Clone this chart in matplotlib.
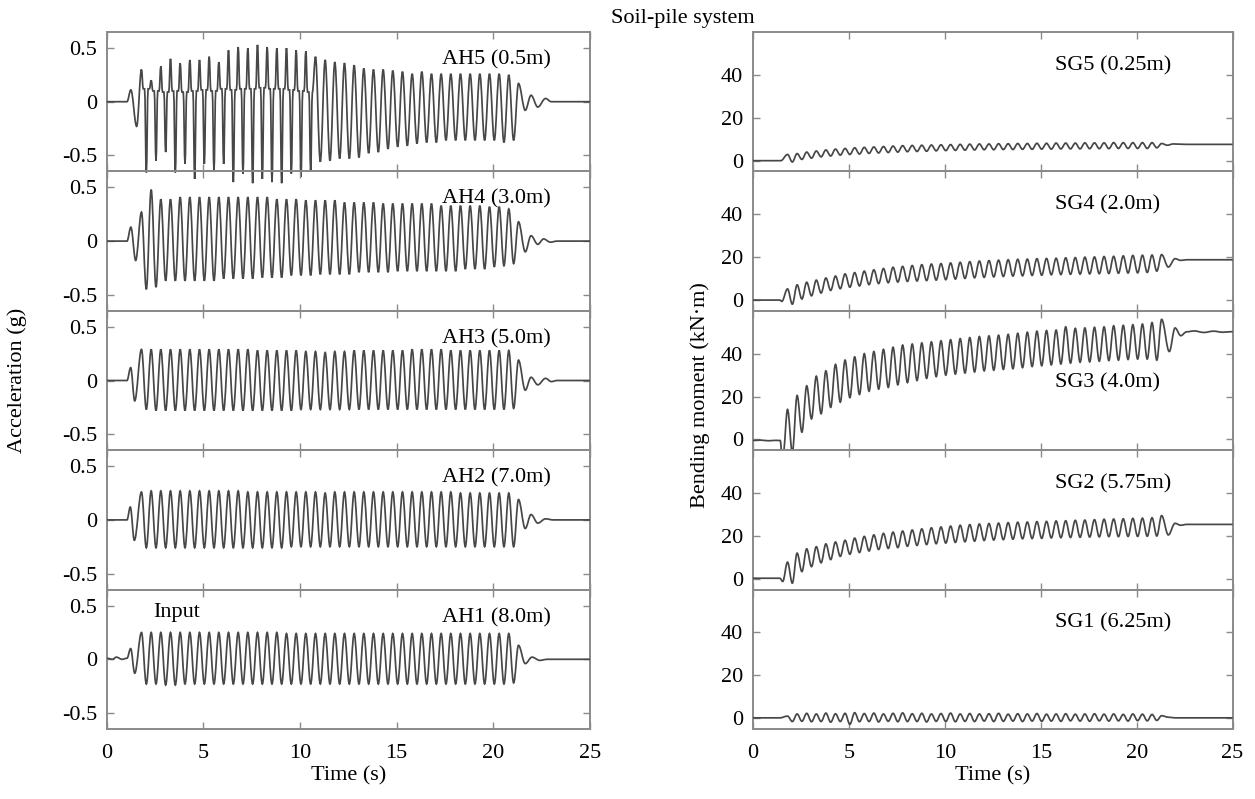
import matplotlib
matplotlib.use('Agg')
import matplotlib.pyplot as plt
from matplotlib.path import Path
from matplotlib.patches import PathPatch

plt.rcParams['font.family'] = ['Liberation Serif', 'DejaVu Serif']
plt.rcParams['font.size'] = 16

# =============================================================
# DATA (cycle peaks / troughs of each record)
# =============================================================

# times of the cycle peaks and troughs (s), ~2 Hz sine sweep
peak_t = [1.8, 2.3, 2.8, 3.3, 3.8, 4.3, 4.8, 5.3, 5.8, 6.3,
          6.8, 7.3, 7.8, 8.3, 8.8, 9.3, 9.8, 10.3, 10.8, 11.3,
          11.8, 12.3, 12.8, 13.3, 13.8, 14.3, 14.8, 15.3, 15.8, 16.3,
          16.8, 17.3, 17.8, 18.3, 18.8, 19.3, 19.8, 20.3, 20.8, 21.3]
trough_t = [2.05, 2.55, 3.05, 3.55, 4.05, 4.55, 5.05, 5.55, 6.05, 6.55,
            7.05, 7.55, 8.05, 8.55, 9.05, 9.55, 10.05, 10.55, 11.05, 11.55,
            12.05, 12.55, 13.05, 13.55, 14.05, 14.55, 15.05, 15.55, 16.05, 16.55,
            17.05, 17.55, 18.05, 18.55, 19.05, 19.55, 20.05, 20.55, 21.05]

# --- accelerations (g) ---
ah5_pre = [(0, 0), (1.05, 0), (1.25, 0.11), (1.55, -0.23)]
ah5_peaks = [0.30, 0.20, 0.33, 0.40, 0.36, 0.39, 0.39, 0.42, 0.37, 0.48,
             0.51, 0.50, 0.53, 0.51, 0.50, 0.50, 0.48, 0.47, 0.42, 0.39,
             0.37, 0.36, 0.34, 0.31, 0.30, 0.30, 0.29, 0.28, 0.26, 0.28,
             0.26, 0.26, 0.26, 0.26, 0.26, 0.26, 0.26, 0.26, 0.25, 0.17]
ah5_troughs = [-0.66, -0.55, -0.47, -0.66, -0.58, -0.72, -0.58, -0.64, -0.58, -0.75,
               -0.67, -0.76, -0.72, -0.75, -0.76, -0.67, -0.70, -0.64, -0.56, -0.55,
               -0.53, -0.53, -0.52, -0.48, -0.47, -0.44, -0.42, -0.41, -0.39, -0.38,
               -0.38, -0.36, -0.36, -0.36, -0.36, -0.36, -0.36, -0.38, -0.36]
# plateau level between the dilation spikes (first cycles only)
ah5_shoulder = [0.12, 0.10, 0.09, 0.10, 0.09, 0.10, 0.11, 0.10, 0.12, 0.11,
                0.12, 0.12, 0.13, 0.12, 0.12, 0.11, 0.10, 0.09]
ah5_post = [(21.65, -0.08), (21.95, 0.06), (22.3, -0.05), (22.7, 0.03), (23.0, 0.0), (25, 0)]

ah4_pre = [(0, 0), (1.05, 0), (1.25, 0.13), (1.5, -0.18)]
ah4_peaks = [0.27, 0.48, 0.39, 0.39, 0.41, 0.41, 0.41, 0.41, 0.41, 0.41,
             0.41, 0.41, 0.41, 0.41, 0.39, 0.39, 0.39, 0.38, 0.38, 0.38,
             0.38, 0.36, 0.36, 0.36, 0.36, 0.35, 0.35, 0.35, 0.35, 0.35,
             0.35, 0.33, 0.33, 0.33, 0.33, 0.33, 0.32, 0.32, 0.30, 0.18]
ah4_troughs = [-0.45, -0.43, -0.37, -0.37, -0.37, -0.37, -0.37, -0.37, -0.35, -0.35,
               -0.35, -0.35, -0.34, -0.34, -0.34, -0.32, -0.32, -0.32, -0.31, -0.31,
               -0.31, -0.31, -0.29, -0.29, -0.29, -0.29, -0.28, -0.28, -0.28, -0.28,
               -0.28, -0.28, -0.28, -0.26, -0.26, -0.26, -0.24, -0.23, -0.21]
ah4_post = [(21.65, -0.10), (21.95, 0.05), (22.3, -0.03), (22.6, 0.02), (22.95, -0.01), (23.3, 0), (25, 0)]

ah3_pre = [(0, 0), (1.05, 0), (1.24, 0.12), (1.45, -0.19)]
ah3_peaks = [0.29, 0.29, 0.29, 0.29, 0.29, 0.29, 0.29, 0.29, 0.29, 0.29,
             0.29, 0.29, 0.28, 0.28, 0.28, 0.28, 0.28, 0.27, 0.27, 0.26,
             0.27, 0.27, 0.28, 0.28, 0.28, 0.28, 0.28, 0.28, 0.29, 0.29,
             0.29, 0.29, 0.28, 0.28, 0.28, 0.28, 0.28, 0.28, 0.28, 0.19]
ah3_troughs = [-0.27, -0.28, -0.28, -0.28, -0.28, -0.28, -0.28, -0.28, -0.28, -0.28,
               -0.28, -0.28, -0.28, -0.28, -0.28, -0.28, -0.27, -0.27, -0.27, -0.27,
               -0.27, -0.27, -0.27, -0.27, -0.27, -0.27, -0.27, -0.27, -0.27, -0.27,
               -0.27, -0.27, -0.27, -0.27, -0.27, -0.27, -0.27, -0.27, -0.26]
ah3_post = [(21.65, -0.09), (21.95, 0.03), (22.3, -0.04), (22.7, 0.02), (23.0, -0.01), (23.3, 0), (25, 0)]

ah2_pre = [(0, 0), (1.05, 0), (1.22, 0.12), (1.43, -0.19)]
ah2_peaks = [0.26, 0.27, 0.27, 0.27, 0.27, 0.27, 0.27, 0.27, 0.27, 0.27,
             0.27, 0.26, 0.26, 0.26, 0.26, 0.26, 0.26, 0.26, 0.26, 0.25,
             0.26, 0.26, 0.26, 0.26, 0.26, 0.26, 0.26, 0.26, 0.26, 0.26,
             0.26, 0.26, 0.26, 0.25, 0.25, 0.25, 0.25, 0.25, 0.25, 0.19]
ah2_troughs = [-0.26, -0.26, -0.26, -0.26, -0.26, -0.26, -0.26, -0.26, -0.26, -0.26,
               -0.26, -0.26, -0.26, -0.26, -0.26, -0.25, -0.25, -0.25, -0.25, -0.25,
               -0.25, -0.25, -0.25, -0.25, -0.25, -0.25, -0.25, -0.25, -0.25, -0.25,
               -0.25, -0.25, -0.25, -0.25, -0.25, -0.25, -0.25, -0.25, -0.25]
ah2_post = [(21.65, -0.08), (21.95, 0.05), (22.3, -0.03), (22.7, 0.01), (23.1, 0), (25, 0)]

ah1_pre = [(0, 0.01), (0.3, 0.0), (0.5, 0.02), (0.8, 0.0), (1.05, 0.01), (1.24, 0.10), (1.45, -0.13)]
ah1_peaks = [0.25, 0.25, 0.25, 0.25, 0.25, 0.25, 0.25, 0.25, 0.25, 0.25,
             0.25, 0.25, 0.25, 0.25, 0.25, 0.24, 0.24, 0.24, 0.24, 0.24,
             0.24, 0.24, 0.24, 0.24, 0.24, 0.24, 0.24, 0.24, 0.24, 0.24,
             0.24, 0.24, 0.24, 0.24, 0.24, 0.24, 0.24, 0.24, 0.24, 0.13]
ah1_troughs = [-0.23, -0.23, -0.24, -0.24, -0.23, -0.23, -0.23, -0.23, -0.23, -0.23,
               -0.23, -0.23, -0.23, -0.23, -0.23, -0.23, -0.23, -0.23, -0.23, -0.23,
               -0.23, -0.23, -0.23, -0.23, -0.23, -0.23, -0.23, -0.23, -0.23, -0.23,
               -0.23, -0.23, -0.23, -0.23, -0.23, -0.23, -0.23, -0.23, -0.22]
ah1_post = [(21.65, -0.04), (22.0, 0.02), (22.4, -0.01), (22.8, 0.0), (25, 0)]

# --- bending moments (kN m) ---
sg5_pre = [(0, 0), (1.45, 0)]
sg5_peaks = [2.9, 3.3, 4.0, 4.5, 5.0, 5.4, 5.7, 6.0, 6.2, 6.4,
             6.6, 6.8, 7.0, 7.1, 7.2, 7.3, 7.4, 7.5, 7.6, 7.7,
             7.8, 7.8, 7.9, 7.9, 8.0, 8.0, 8.1, 8.1, 8.2, 8.2,
             8.2, 8.3, 8.3, 8.3, 8.4, 8.4, 8.4, 8.4, 8.4, 8.0]
sg5_troughs = [-0.6, 0.6, 1.2, 1.8, 2.2, 2.6, 2.9, 3.1, 3.4, 3.6,
               3.8, 4.0, 4.2, 4.3, 4.4, 4.6, 4.7, 4.8, 4.9, 5.0,
               5.1, 5.1, 5.2, 5.2, 5.3, 5.3, 5.4, 5.4, 5.5, 5.5,
               5.5, 5.6, 5.6, 5.6, 5.7, 5.7, 5.7, 5.7, 6.0]
sg5_post = [(21.6, 7.2), (21.9, 7.8), (22.6, 7.6), (25, 7.6)]

sg4_pre = [(0, 0), (1.4, 0), (1.5, -0.6)]
sg4_peaks = [5.2, 7.1, 8.3, 9.3, 10.3, 11.2, 12.2, 12.8, 13.5, 14.1,
             14.7, 15.3, 15.7, 16.1, 16.5, 16.8, 17.0, 17.3, 17.6, 17.9,
             18.2, 18.4, 18.6, 18.8, 19.0, 19.1, 19.3, 19.4, 19.5, 19.7,
             19.8, 20.0, 20.1, 20.3, 20.4, 20.6, 20.8, 20.9, 21.0, 21.2]
sg4_troughs = [-1.9, 0.5, 2.0, 3.3, 4.5, 5.3, 6.0, 6.6, 7.2, 7.7,
               8.1, 8.4, 8.7, 8.9, 9.1, 9.3, 9.5, 9.8, 10.1, 10.4,
               10.6, 10.8, 11.0, 11.2, 11.3, 11.5, 11.6, 11.8, 11.9, 12.0,
               12.1, 12.2, 12.3, 12.4, 12.5, 12.6, 12.7, 12.9, 13.5]
sg4_post = [(21.65, 15.4), (22.0, 19.3), (22.3, 18.5), (22.6, 18.8), (25, 18.8)]

sg3_pre = [(0, -0.5), (0.4, -0.3), (0.8, -0.6), (1.2, -0.4), (1.42, -0.5), (1.5, -6), (1.58, -6)]
sg3_peaks = [14.0, 20.5, 25.0, 29.5, 32.0, 35.0, 37.0, 38.5, 40.0, 41.0,
             42.0, 43.0, 44.0, 44.5, 45.0, 45.5, 46.0, 46.5, 47.0, 47.5,
             48.0, 48.3, 48.6, 49.0, 49.5, 50.0, 50.5, 50.8, 51.0, 52.5,
             51.8, 52.0, 52.3, 52.5, 53.0, 53.2, 53.5, 53.8, 54.5, 56.0]
sg3_troughs = [-6.0, 3.4, 9.6, 12.0, 15.0, 17.4, 19.5, 21.0, 22.5, 23.5,
               24.3, 25.5, 26.5, 27.5, 28.5, 29.3, 30.0, 30.5, 31.0, 31.5,
               32.0, 32.3, 32.7, 33.0, 33.5, 34.0, 34.4, 34.8, 35.2, 35.6,
               36.0, 36.2, 36.5, 36.8, 37.0, 37.3, 37.5, 37.5, 37.0]
sg3_post = [(21.7, 41.0), (22.0, 52.0), (22.3, 48.4), (22.6, 50.2), (23.0, 50.6),
            (23.5, 49.9), (24.0, 50.5), (24.5, 50.0), (25, 50.3)]

sg2_pre = [(0, 0.3), (1.4, 0.3), (1.55, -1.2)]
sg2_peaks = [7.8, 12.0, 14.0, 15.0, 16.3, 17.2, 18.0, 19.0, 19.8, 20.5,
             21.2, 21.8, 22.3, 22.8, 23.3, 23.8, 24.2, 24.6, 25.0, 25.3,
             25.6, 25.8, 26.0, 26.2, 26.4, 26.5, 26.7, 26.8, 27.0, 27.1,
             27.3, 27.4, 27.6, 27.8, 27.9, 28.0, 28.2, 28.3, 28.5, 29.5]
sg2_troughs = [-2.0, 3.4, 5.7, 7.5, 9.0, 10.5, 11.5, 12.3, 13.0, 13.7,
               14.2, 14.6, 15.2, 15.6, 16.0, 16.4, 16.7, 17.0, 17.3, 17.6,
               17.9, 18.1, 18.3, 18.5, 18.7, 18.8, 18.9, 19.1, 19.2, 19.3,
               19.4, 19.5, 19.6, 19.7, 19.7, 19.8, 19.8, 19.9, 20.0]
sg2_post = [(21.65, 20.5), (22.0, 25.9), (22.3, 25.0), (22.6, 25.4), (25, 25.4)]

sg1_pre = [(0, 0.2), (1.4, 0.2)]
sg1_peaks = [1.0, 2.0, 2.3, 2.0, 2.4, 2.1, 2.3, 2.6, 2.2, 2.4,
             2.0, 2.3, 2.5, 2.1, 2.3, 2.0, 2.2, 2.4, 2.0, 2.2,
             2.0, 2.1, 2.3, 1.9, 2.1, 2.0, 2.2, 1.9, 2.0, 2.1,
             1.9, 2.0, 2.1, 1.9, 2.0, 1.8, 2.0, 1.9, 1.8, 1.2]
sg1_troughs = [-1.5, -1.4, -1.6, -1.5, -1.8, -1.5, -2.8, -1.6, -1.5, -1.7,
               -1.4, -1.6, -1.5, -1.5, -1.7, -1.4, -1.5, -1.6, -1.4, -1.5,
               -1.3, -1.5, -1.4, -1.3, -1.5, -1.3, -1.4, -1.3, -1.4, -1.2,
               -1.3, -1.4, -1.2, -1.3, -1.2, -1.3, -1.1, -1.2, -1.0]
sg1_post = [(21.65, 0.5), (22.0, 0.2), (25, 0.2)]

acc_labels = ['AH5 (0.5m)', 'AH4 (3.0m)', 'AH3 (5.0m)', 'AH2 (7.0m)', 'AH1 (8.0m)']
sg_labels = ['SG5 (0.25m)', 'SG4 (2.0m)', 'SG3 (4.0m)', 'SG2 (5.75m)', 'SG1 (6.25m)']
time_ticks = [0, 5, 10, 15, 20, 25]
acc_ticks = [-0.5, 0, 0.5]
acc_ticklabels = ['-0.5', '0', '0.5']
bm_ticks = [0, 20, 40]


# =============================================================
# BUILD THE RECORDS FROM THE PEAK / TROUGH READINGS
# =============================================================

def build_trace(pre, peaks, troughs, post, shoulder=None, dt=0.09):
    ts = [p[0] for p in pre]
    vs = [p[1] for p in pre]
    for i, pk in enumerate(peaks):
        has_sh = shoulder is not None and i < len(shoulder)
        if has_sh and i > 0:
            ts.append(peak_t[i] - dt); vs.append(shoulder[i - 1])
        ts.append(peak_t[i]); vs.append(pk)
        if i < len(troughs):
            if has_sh:
                ts.append(peak_t[i] + dt); vs.append(shoulder[i])
                ts.append(trough_t[i] - dt); vs.append(shoulder[i])
            ts.append(trough_t[i]); vs.append(troughs[i])
            if has_sh:
                ts.append(trough_t[i] + dt); vs.append(shoulder[i])
    ts += [p[0] for p in post]
    vs += [p[1] for p in post]
    return ts, vs


def wave_path(ts, vs, k=0.36):
    """Bezier path through the readings, flat tangent at each extreme."""
    verts = [(ts[0], vs[0])]
    codes = [Path.MOVETO]
    for j in range(1, len(ts)):
        d = ts[j] - ts[j - 1]
        verts += [(ts[j - 1] + k * d, vs[j - 1]), (ts[j] - k * d, vs[j]), (ts[j], vs[j])]
        codes += [Path.CURVE4] * 3
    return Path(verts, codes)


acc_traces = [
    build_trace(ah5_pre, ah5_peaks, ah5_troughs, ah5_post, ah5_shoulder),
    build_trace(ah4_pre, ah4_peaks, ah4_troughs, ah4_post),
    build_trace(ah3_pre, ah3_peaks, ah3_troughs, ah3_post),
    build_trace(ah2_pre, ah2_peaks, ah2_troughs, ah2_post),
    build_trace(ah1_pre, ah1_peaks, ah1_troughs, ah1_post),
]
sg_traces = [
    build_trace(sg5_pre, sg5_peaks, sg5_troughs, sg5_post),
    build_trace(sg4_pre, sg4_peaks, sg4_troughs, sg4_post),
    build_trace(sg3_pre, sg3_peaks, sg3_troughs, sg3_post),
    build_trace(sg2_pre, sg2_peaks, sg2_troughs, sg2_post),
    build_trace(sg1_pre, sg1_peaks, sg1_troughs, sg1_post),
]

# =============================================================
# FIGURE
# =============================================================

W, H = 1255, 799
fig = plt.figure(figsize=(W / 100, H / 100), dpi=100)

top_px, panel_px = 32, 139.4
spine_col = '#8a8a8a'
line_col = '#474747'


def style_axis(ax, yticks, yticklabels, bottom):
    ax.set_facecolor('none')
    for s in ax.spines.values():
        s.set_color(spine_col)
        s.set_linewidth(1.4)
    ax.set_xlim(0, 25)
    ax.set_xticks(time_ticks)
    ax.set_yticks(yticks)
    ax.set_yticklabels(yticklabels)
    ax.tick_params(direction='in', length=5, width=1.0, color=spine_col,
                   top=True, right=True, labelsize=16, pad=7)
    ax.tick_params(axis='x', pad=11)
    if not bottom:
        ax.set_xticklabels([])
    else:
        ax.set_xlabel('Time (s)', fontsize=16, labelpad=2)


def draw_record(ax, trace, clip=True):
    patch = PathPatch(wave_path(*trace), facecolor='none', edgecolor=line_col,
                      lw=1.25, zorder=3)
    ax.add_patch(patch)
    patch.set_clip_on(clip)


for i in range(5):
    y0 = 1 - (top_px + panel_px * (i + 1)) / H
    h = panel_px / H

    # acceleration column
    ax = fig.add_axes([106.7 / W, y0, 483.3 / W, h])
    draw_record(ax, acc_traces[i], clip=(i != 0))
    ax.set_ylim(-0.65, 0.65)
    style_axis(ax, acc_ticks, acc_ticklabels, i == 4)
    ax.text(0.693, 0.80, acc_labels[i], transform=ax.transAxes,
            ha='left', va='center', fontsize=16)
    if i == 4:
        ax.text(0.096, 0.835, 'Input', transform=ax.transAxes,
                ha='left', va='center', fontsize=16)

    # bending moment column
    ax = fig.add_axes([753 / W, y0, 479.6 / W, h])
    draw_record(ax, sg_traces[i])
    ax.set_ylim(-5, 60)
    style_axis(ax, bm_ticks, [str(b) for b in bm_ticks], i == 4)
    sg_y = 0.48 if i == 2 else 0.76
    ax.text(0.630, sg_y, sg_labels[i], transform=ax.transAxes,
            ha='left', va='center', fontsize=16)

fig.text(683 / W, 1 - 18 / H, 'Soil-pile system', ha='center', va='center', fontsize=16)
fig.text(17 / W, 1 - 380 / H, 'Acceleration (g)', rotation=90,
         ha='center', va='center', fontsize=16)
fig.text(700 / W, 1 - 395 / H, 'Bending moment (kN·m)', rotation=90,
         ha='center', va='center', fontsize=16)

fig.savefig('out.png', dpi=100)
print('saved out.png')
